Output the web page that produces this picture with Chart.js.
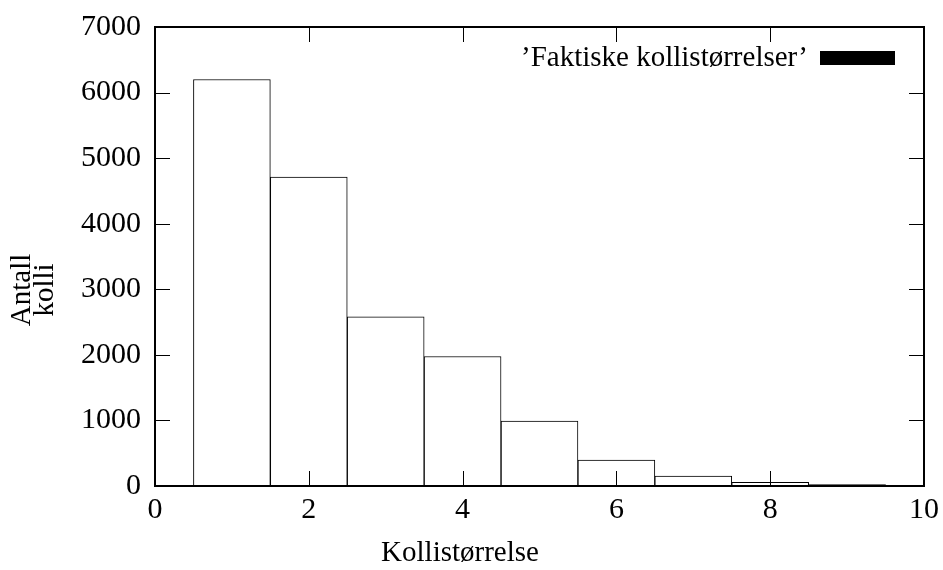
<!DOCTYPE html>
<html>
<head>
<meta charset="utf-8">
<script src="https://cdn.jsdelivr.net/npm/chart.js@4/dist/chart.umd.min.js"></script>
<style>
  html, body { margin: 0; padding: 0; background: #fff; }
  #wrap { width: 943px; height: 570px; }
</style>
</head>
<body>
<div id="wrap"><canvas id="grafico"></canvas></div>
<script>
// data
const kollistorrelse = [1, 2, 3, 4, 5, 6, 7, 8, 9];
const antallKolli = [6200, 4710, 2580, 1975, 990, 395, 150, 55, 20];
const xTicks = [0, 2, 4, 6, 8, 10];
const yTicks = [0, 1000, 2000, 3000, 4000, 5000, 6000, 7000];
const serieNavn = "’Faktiske kollistørrelser’";
const xTittel = "Kollistørrelse";
const yTittel = ["Antall", "kolli"];

const fontFam = "'Liberation Serif', 'DejaVu Serif', serif";
const tickSize = 30;
const tekstSize = 29;

// frame, inside ticks, axis titles, legend
const gnuplotStil = {
  id: "gnuplotStil",
  afterDraw(chart) {
    const ctx = chart.ctx;
    const a = chart.chartArea;
    const xs = chart.scales.x, ys = chart.scales.y;
    ctx.save();
    ctx.strokeStyle = "#000";
    ctx.lineWidth = 1;
    ctx.beginPath();
    const tl = 15;
    xTicks.forEach(v => {
      const px = Math.round(xs.getPixelForValue(v)) + 0.5;
      ctx.moveTo(px, a.bottom); ctx.lineTo(px, a.bottom - tl);
      ctx.moveTo(px, a.top); ctx.lineTo(px, a.top + tl);
    });
    yTicks.forEach(v => {
      const py = Math.round(ys.getPixelForValue(v)) + 0.5;
      ctx.moveTo(a.left, py); ctx.lineTo(a.left + tl, py);
      ctx.moveTo(a.right, py); ctx.lineTo(a.right - tl, py);
    });
    ctx.stroke();
    ctx.lineWidth = 2;
    ctx.strokeRect(a.left, a.top, a.right - a.left, a.bottom - a.top);

    ctx.fillStyle = "#000";
    ctx.font = tekstSize + "px " + fontFam;
    ctx.textAlign = "center";
    ctx.textBaseline = "middle";
    ctx.fillText(xTittel, 460, 553);

    ctx.save();
    ctx.translate(33, 290);
    ctx.rotate(-Math.PI / 2);
    ctx.fillText(yTittel[0], 0, -11);
    ctx.fillText(yTittel[1], 0, 12);
    ctx.restore();

    // legend
    ctx.textAlign = "right";
    ctx.fillText(chart.data.datasets[0].label, 808, 58);
    ctx.fillRect(820, 51, 75, 14);
    ctx.restore();
  }
};

new Chart(document.getElementById("grafico"), {
  type: "bar",
  data: {
    datasets: [{
      label: serieNavn,
      data: kollistorrelse.map((k, i) => ({ x: k, y: antallKolli[i] })),
      backgroundColor: "#fff",
      borderColor: "#000",
      borderWidth: 1,
      barPercentage: 1,
      categoryPercentage: 1
    }]
  },
  options: {
    responsive: true,
    maintainAspectRatio: false,
    animation: false,
    layout: { padding: { top: 27, right: 19, left: 0, bottom: 0 } },
    plugins: { legend: { display: false }, tooltip: { enabled: false } },
    scales: {
      x: {
        type: "linear",
        offset: false,
        min: 0, max: 10,
        grid: { display: false, drawTicks: false, offset: false },
        border: { display: false },
        afterBuildTicks: s => { s.ticks = xTicks.map(v => ({ value: v })); },
        afterFit: s => { s.height = 84; s.paddingLeft = 0; s.paddingRight = 0; },
        ticks: { color: "#000", font: { family: fontFam, size: tickSize }, padding: 6, maxRotation: 0,
                 callback: v => String(v) }
      },
      y: {
        min: 0, max: 7000,
        grid: { display: false, drawTicks: false },
        border: { display: false },
        afterBuildTicks: s => { s.ticks = yTicks.map(v => ({ value: v })); },
        afterFit: s => { s.width = 155; s.paddingTop = 0; s.paddingBottom = 0; },
        ticks: { color: "#000", font: { family: fontFam, size: tickSize }, padding: 14,
                 callback: v => String(v) }
      }
    }
  },
  plugins: [gnuplotStil]
});
</script>
</body>
</html>
